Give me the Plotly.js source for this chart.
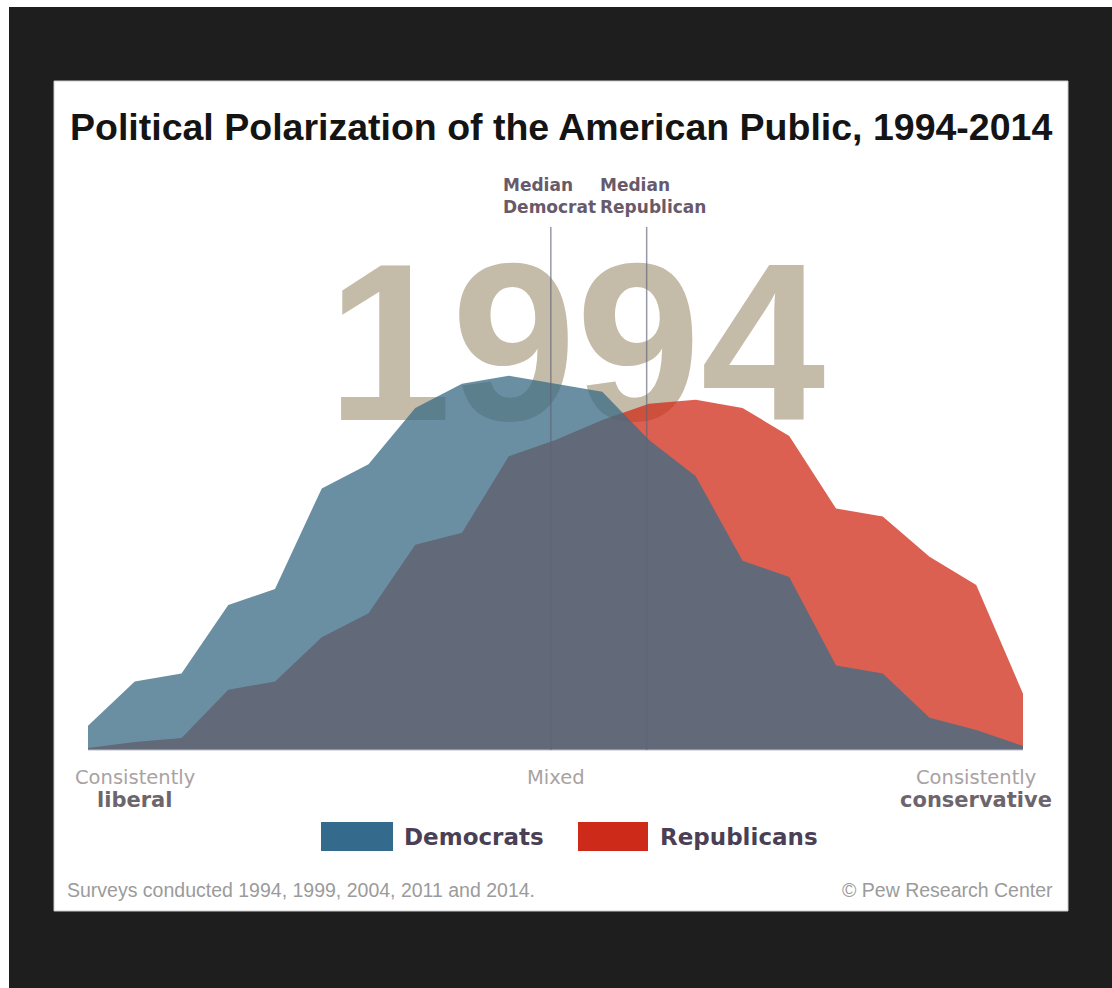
<!DOCTYPE html>
<html>
<head>
<meta charset="utf-8">
<script src="https://cdn.plot.ly/plotly-3.0.1.min.js"></script>
<style>
html,body{margin:0;padding:0;background:#ffffff;}
#chart{width:1112px;height:988px;}
</style>
</head>
<body>
<div id="chart"></div>
<script>
// ---------------- data ----------------
const scalePoints = [-10,-9,-8,-7,-6,-5,-4,-3,-2,-1,0,1,2,3,4,5,6,7,8,9,10];
const democrats   = [0.6,1.7,1.9,3.6,4.0,6.5,7.1,8.5,9.1,9.3,9.1,8.9,7.7,6.8,4.7,4.3,2.1,1.9,0.8,0.5,0.1];
const republicans = [0.05,0.2,0.3,1.5,1.7,2.8,3.4,5.1,5.4,7.3,7.7,8.2,8.6,8.7,8.5,7.8,6.0,5.8,4.8,4.1,1.4];
const seriesNames = ['Democrats','Republicans'];
const medianNames = ['Democrat','Republican'];
const medianValues = [-0.1, 1.95];
const axisLabelPos = [-9, 0, 9];
const axisLabelTop = ['Consistently','Mixed','Consistently'];
const axisLabelBottom = ['liberal','','conservative'];
const surveyYear = '1994';
const titleText = 'Political Polarization of the American Public, 1994-2014';
const footerLeft = 'Surveys conducted 1994, 1999, 2004, 2011 and 2014.';
const footerRight = '\u00A9 Pew Research Center';

// ---------------- layout helpers ----------------
const W = 1112, H = 988;
const X0 = 88, XS = 46.75;   // pixel of scale -10, px per scale unit
const Y0 = 750, YS = 40.25;  // baseline pixel, px per percent
const px = x => x / W;
const py = y => 1 - y / H;

const demFill = 'rgba(59,108,134,0.76)';
const repFill = 'rgba(208,46,26,0.76)';
const demLegend = '#346b8c';
const repLegend = '#cd2a1a';
const sansBold = 'DejaVu Sans, Verdana, sans-serif';
const arial = 'Liberation Sans, Arial, sans-serif';

const traces = [
  {
    x: [0.44], y: [9.6], text: [surveyYear], mode: 'text', type: 'scatter',
    textposition: 'middle center', hoverinfo: 'skip', showlegend: false,
    textfont: {family: arial, size: 224, weight: 'bold', color: '#c4bca8'}
  },
  {
    x: scalePoints, y: republicans, name: seriesNames[1], type: 'scatter', mode: 'none',
    fill: 'tozeroy', fillcolor: repFill, line: {width: 0}, showlegend: false
  },
  {
    x: scalePoints, y: democrats, name: seriesNames[0], type: 'scatter', mode: 'none',
    fill: 'tozeroy', fillcolor: demFill, line: {width: 0}, showlegend: false
  }
];

const shapes = [
  {type:'rect', xref:'paper', yref:'paper', x0:px(9), x1:1, y0:0, y1:py(7),
   fillcolor:'#1e1e1e', line:{width:0}, layer:'below'},
  {type:'rect', xref:'paper', yref:'paper', x0:px(54), x1:px(1068), y0:py(911), y1:py(81),
   fillcolor:'#ffffff', line:{width:1, color:'#c9c9c9'}, layer:'below'},
  {type:'line', xref:'x', yref:'y', x0:scalePoints[0], x1:scalePoints[scalePoints.length-1], y0:0, y1:0,
   line:{width:1.2, color:'#b9bccb'}, layer:'above'},
  // legend swatches
  {type:'rect', xref:'paper', yref:'paper', x0:px(321), x1:px(393), y0:py(851), y1:py(822),
   fillcolor:demLegend, line:{width:0}},
  {type:'rect', xref:'paper', yref:'paper', x0:px(578), x1:px(648), y0:py(851), y1:py(822),
   fillcolor:repLegend, line:{width:0}}
];
medianValues.forEach(v => {
  shapes.push({type:'line', xref:'x', yref:'y', x0:v, x1:v, y0:0, y1:(Y0-227)/YS,
    line:{width:1.5, color:'rgba(95,98,118,0.65)'}, layer:'above'});
});

const annotations = [
  {text:titleText, xref:'paper', yref:'paper', x:px(561), y:py(127), xanchor:'center', yanchor:'middle',
   showarrow:false, font:{family:arial, size:37.5, weight:'bold', color:'#141414'}},
  {text:footerLeft, xref:'paper', yref:'paper', x:px(65), y:py(890), xanchor:'left', yanchor:'middle',
   showarrow:false, font:{family:arial, size:19.5, color:'#9b9b9b'}},
  {text:footerRight, xref:'paper', yref:'paper', x:px(1055), y:py(890), xanchor:'right', yanchor:'middle',
   showarrow:false, font:{family:arial, size:19.5, color:'#9b9b9b'}},
  {text:seriesNames[0], xref:'paper', yref:'paper', x:px(402), y:py(837), xanchor:'left', yanchor:'middle',
   showarrow:false, font:{family:sansBold, size:23, weight:'bold', color:'#4a3f55'}},
  {text:seriesNames[1], xref:'paper', yref:'paper', x:px(658), y:py(837), xanchor:'left', yanchor:'middle',
   showarrow:false, font:{family:sansBold, size:23, weight:'bold', color:'#4a3f55'}}
];
const medianLabelLeft = [502, 599];
medianNames.forEach((n, i) => {
  annotations.push({text:'Median', xref:'paper', yref:'paper', x:px(medianLabelLeft[i]), y:py(185),
    xanchor:'left', yanchor:'middle', showarrow:false, borderpad:0,
    font:{family:sansBold, size:17, weight:'bold', color:'#675a6a'}});
  annotations.push({text:n, xref:'paper', yref:'paper', x:px(medianLabelLeft[i]), y:py(207),
    xanchor:'left', yanchor:'middle', showarrow:false, borderpad:0,
    font:{family:sansBold, size:17, weight:'bold', color:'#675a6a'}});
});
axisLabelPos.forEach((p, i) => {
  annotations.push({text:axisLabelTop[i], xref:'x', yref:'paper', x:p, y:py(777), xanchor:'center', yanchor:'middle',
    showarrow:false, font:{family:sansBold, size:19.5, color:'#a9a2a2'}});
  if (axisLabelBottom[i]) {
    annotations.push({text:axisLabelBottom[i], xref:'x', yref:'paper', x:p, y:py(800), xanchor:'center', yanchor:'middle',
      showarrow:false, font:{family:sansBold, size:21, weight:'bold', color:'#6d656d'}});
  }
});

const layout = {
  width: W, height: H,
  margin: {l:0, r:0, t:0, b:0, pad:0},
  paper_bgcolor: '#ffffff',
  plot_bgcolor: 'rgba(0,0,0,0)',
  showlegend: false,
  xaxis: {range:[-10 - X0/XS, -10 + (W - X0)/XS], visible:false, fixedrange:true},
  yaxis: {range:[-(H - Y0)/YS, Y0/YS], visible:false, fixedrange:true},
  shapes: shapes,
  annotations: annotations
};

Plotly.newPlot('chart', traces, layout, {displayModeBar:false, staticPlot:true});
</script>
</body>
</html>
